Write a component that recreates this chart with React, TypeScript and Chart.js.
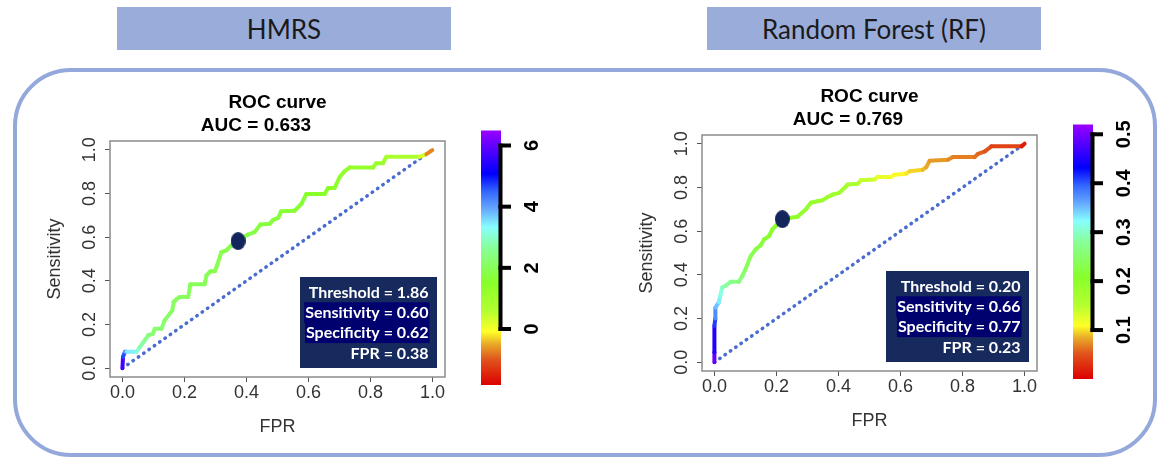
import React, { useEffect, useRef } from 'react';
import { Chart, registerables } from 'chart.js';

Chart.register(...registerables);

const axisTicks = [0, 0.2, 0.4, 0.6, 0.8, 1.0];

// ---- HMRS panel data ----
const hmrsFpr = [0, 0.002, 0.008, 0.015, 0.045, 0.056, 0.072, 0.083, 0.099, 0.104, 0.126, 0.136, 0.153, 0.161, 0.165, 0.176, 0.185, 0.212, 0.219, 0.265, 0.271, 0.284, 0.298, 0.305, 0.319, 0.335, 0.351, 0.373, 0.391, 0.405, 0.426, 0.445, 0.475, 0.486, 0.502, 0.512, 0.555, 0.577, 0.593, 0.652, 0.663, 0.684, 0.7, 0.716, 0.733, 0.808, 0.818, 0.84, 0.851, 0.958, 0.98, 0.999];
const hmrsTpr = [0, 0.052, 0.075, 0.075, 0.075, 0.097, 0.128, 0.151, 0.158, 0.181, 0.181, 0.219, 0.25, 0.265, 0.303, 0.318, 0.326, 0.326, 0.384, 0.384, 0.425, 0.444, 0.444, 0.47, 0.531, 0.539, 0.562, 0.582, 0.6, 0.612, 0.623, 0.658, 0.661, 0.679, 0.688, 0.718, 0.721, 0.752, 0.798, 0.798, 0.825, 0.825, 0.874, 0.901, 0.919, 0.919, 0.938, 0.938, 0.968, 0.968, 0.98, 0.998];
const hmrsThreshold = [6.4, 5.0, 4.3, 3.7, 3.2, 2.9, 2.6, 2.4, 2.3, 2.25, 2.2, 2.18, 2.15, 2.12, 2.1, 2.08, 2.05, 2.02, 2.0, 1.98, 1.96, 1.94, 1.92, 1.91, 1.9, 1.89, 1.87, 1.86, 1.84, 1.82, 1.8, 1.77, 1.74, 1.71, 1.68, 1.65, 1.6, 1.56, 1.52, 1.47, 1.43, 1.38, 1.34, 1.3, 1.25, 1.18, 1.12, 1.05, 0.98, 0.5, 0.1, -1.5];
const hmrsCutoff = [0.373, 0.582];
const hmrsInfo = ['Threshold = 1.86', 'Sensitivity = 0.60', 'Specificity = 0.62', 'FPR = 0.38'];
const hmrsColorRange = [-1.83, 6.49];
const hmrsColorTicks = [0, 2, 4, 6];

// ---- Random Forest panel data ----
const rfFpr = [0, 0, 0, 0.003, 0.003, 0.014, 0.019, 0.025, 0.036, 0.052, 0.079, 0.09, 0.1, 0.117, 0.133, 0.149, 0.16, 0.176, 0.187, 0.197, 0.214, 0.246, 0.268, 0.294, 0.311, 0.332, 0.348, 0.365, 0.381, 0.402, 0.419, 0.429, 0.462, 0.472, 0.516, 0.526, 0.57, 0.58, 0.618, 0.629, 0.672, 0.683, 0.694, 0.753, 0.769, 0.839, 0.85, 0.872, 0.893, 0.99, 1.0];
const rfTpr = [0, 0.046, 0.167, 0.2, 0.25, 0.274, 0.304, 0.342, 0.35, 0.368, 0.368, 0.395, 0.425, 0.486, 0.517, 0.535, 0.562, 0.577, 0.608, 0.623, 0.653, 0.661, 0.666, 0.699, 0.73, 0.737, 0.741, 0.756, 0.767, 0.775, 0.797, 0.813, 0.817, 0.833, 0.836, 0.848, 0.848, 0.858, 0.863, 0.874, 0.881, 0.893, 0.922, 0.927, 0.939, 0.939, 0.954, 0.965, 0.988, 0.988, 1.0];
const rfThreshold = [0.51, 0.47, 0.43, 0.39, 0.36, 0.34, 0.32, 0.3, 0.285, 0.275, 0.265, 0.255, 0.245, 0.235, 0.228, 0.222, 0.217, 0.212, 0.208, 0.204, 0.2, 0.198, 0.196, 0.194, 0.191, 0.188, 0.185, 0.182, 0.179, 0.176, 0.173, 0.17, 0.16, 0.15, 0.133, 0.126, 0.116, 0.11, 0.104, 0.1, 0.092, 0.086, 0.08, 0.075, 0.07, 0.066, 0.06, 0.055, 0.048, 0.035, 0.0];
const rfCutoff = [0.219, 0.655];
const rfInfo = ['Threshold = 0.20', 'Sensitivity = 0.66', 'Specificity = 0.77', 'FPR = 0.23'];
const rfColorRange = [0, 0.52];
const rfColorTicks = [0.1, 0.2, 0.3, 0.4, 0.5];

// colour palette (bottom -> top of colour bar)
const paletteStops: [number, string][] = [
  [0, '#dd0000'], [0.1, '#e0541c'], [0.16, '#e8a828'], [0.21, '#ffff26'], [0.29, '#b4ff30'],
  [0.4, '#88ff2a'], [0.54, '#88ff99'], [0.62, '#88ffff'], [0.69, '#66aaff'], [0.76, '#3366ff'],
  [0.83, '#0000ff'], [1, '#9900ff'],
];

function hexRgb(h: string) {
  return [parseInt(h.slice(1, 3), 16), parseInt(h.slice(3, 5), 16), parseInt(h.slice(5, 7), 16)];
}

function rainbow(t: number) {
  const tt = Math.max(0, Math.min(1, t));
  for (let i = 1; i < paletteStops.length; i++) {
    const [t1, c1] = paletteStops[i];
    const [t0, c0] = paletteStops[i - 1];
    if (tt <= t1) {
      const f = (tt - t0) / (t1 - t0);
      const a = hexRgb(c0), b = hexRgb(c1);
      const r = a.map((v, k) => Math.round(v + (b[k] - v) * f));
      return `rgb(${r[0]},${r[1]},${r[2]})`;
    }
  }
  return paletteStops[paletteStops.length - 1][1];
}

const FONT = "'Liberation Sans', Arial, sans-serif";

type PanelProps = {
  left: number; top: number;
  fpr: number[]; tpr: number[]; thr: number[]; cut: number[];
  auc: string; info: string[]; infoWidth: number;
  range: number[]; cbTicks: number[]; cbDigits: number;
};

function RocPanel(props: PanelProps) {
  const ref = useRef<HTMLCanvasElement>(null);
  useEffect(() => {
    const canvas = ref.current as HTMLCanvasElement;
    const dot = document.createElement('canvas');
    dot.width = 15; dot.height = 18;
    const dctx = dot.getContext('2d') as CanvasRenderingContext2D;
    dctx.fillStyle = '#13255c';
    dctx.beginPath();
    dctx.ellipse(7.5, 9, 7.5, 9, 0, 0, Math.PI * 2);
    dctx.fill();

    const r0 = props.range[0];
    const span = props.range[1] - props.range[0];
    const colorOf = (v: number) => rainbow((v - r0) / span);

    const decor = {
      id: 'decor',
      beforeDatasetsDraw(chart: any) {
        const { ctx, chartArea: a } = chart;
        ctx.save();
        ctx.strokeStyle = '#8c8c8c';
        ctx.lineWidth = 1.5;
        ctx.strokeRect(a.left, a.top, a.right - a.left, a.bottom - a.top);
        ctx.restore();
      },
      afterDatasetsDraw(chart: any) {
        const { ctx, chartArea: a } = chart;
        ctx.save();
        const bh = 91;
        const bx = a.right - 8 - props.infoWidth;
        const by = a.bottom - 9 - bh;
        ctx.fillStyle = '#172a5e';
        ctx.fillRect(bx, by, props.infoWidth, bh);
        ctx.font = "bold 16px Lato, 'Open Sans', sans-serif";
        ctx.textAlign = 'right';
        ctx.textBaseline = 'alphabetic';
        const tx = a.right - 8 - 8.5;
        const baselines = [20.5, 40.8, 61, 81.5];
        props.info.forEach((line, i) => {
          if (i === 1 || i === 2) {
            const w = ctx.measureText(line).width;
            ctx.fillStyle = '#00006e';
            ctx.fillRect(tx - w - 1, by + baselines[i] - 15.5, w + 2, 20.6);
          }
        });
        ctx.fillStyle = '#ffffff';
        props.info.forEach((line, i) => ctx.fillText(line, tx, by + baselines[i]));
        ctx.restore();
      },
      afterDraw(chart: any) {
        const { ctx, chartArea: a } = chart;
        const ys = chart.scales.y;
        ctx.save();
        // rotated y tick labels
        ctx.font = `18px ${FONT}`;
        ctx.fillStyle = '#333333';
        ctx.textAlign = 'center';
        ctx.textBaseline = 'middle';
        ys.ticks.forEach((t: any) => {
          const py = ys.getPixelForValue(t.value);
          ctx.save();
          ctx.translate(a.left - 20, py);
          ctx.rotate(-Math.PI / 2);
          ctx.fillText(Number(t.value).toFixed(1), 0, 0);
          ctx.restore();
        });
        // titles
        const cx = (a.left + a.right) / 2;
        ctx.fillStyle = '#000000';
        ctx.textBaseline = 'alphabetic';
        ctx.font = `bold 19px ${FONT}`;
        ctx.fillText('ROC curve', cx, a.top - 33);
        ctx.fillText(props.auc, cx - 21.5, a.top - 10);
        // colour bar
        const bl = a.right + 36, bw = 20, bt = a.top - 10.5, bb = a.bottom + 8;
        const g = ctx.createLinearGradient(0, bb, 0, bt);
        paletteStops.forEach(([t, c]) => g.addColorStop(t, c));
        ctx.fillStyle = g;
        ctx.fillRect(bl, bt, bw, bb - bt);
        const vy = (v: number) => bb - ((v - r0) / span) * (bb - bt);
        const tks = props.cbTicks;
        const yTop = vy(tks[tks.length - 1]);
        const yBot = vy(tks[0]);
        ctx.strokeStyle = '#000000';
        ctx.lineWidth = 4;
        ctx.lineCap = 'butt';
        const lx = bl + bw - 0.5;
        ctx.beginPath();
        ctx.moveTo(lx, yTop - 2);
        ctx.lineTo(lx, yBot + 2);
        ctx.stroke();
        tks.forEach((v) => {
          const y = vy(v);
          ctx.beginPath();
          ctx.moveTo(lx - 2, y);
          ctx.lineTo(bl + bw + 10, y);
          ctx.stroke();
        });
        ctx.font = `bold 20px ${FONT}`;
        ctx.fillStyle = '#000000';
        ctx.textAlign = 'center';
        ctx.textBaseline = 'middle';
        tks.forEach((v) => {
          ctx.save();
          ctx.translate(bl + bw + 31, vy(v));
          ctx.rotate(-Math.PI / 2);
          ctx.fillText(v.toFixed(props.cbDigits), 0, 0);
          ctx.restore();
        });
        ctx.restore();
      },
    };

    const gridOpts = { display: true, drawOnChartArea: false, drawTicks: true, tickLength: 5, color: '#555555', lineWidth: 1 };

    const chart = new Chart(canvas, {
      type: 'line',
      data: {
        datasets: [
          {
            label: 'cutoff',
            data: [{ x: props.cut[0], y: props.cut[1] }],
            pointStyle: dot as any,
            pointRadius: 9,
            showLine: false,
            order: 0,
          } as any,
          {
            label: 'ROC',
            data: props.fpr.map((x, i) => ({ x, y: props.tpr[i] })),
            borderWidth: 4,
            borderColor: '#88ff2a',
            pointRadius: 0,
            tension: 0,
            borderCapStyle: 'round',
            borderJoinStyle: 'round',
            segment: {
              borderColor: (c: any) => colorOf((props.thr[c.p0DataIndex] + props.thr[c.p1DataIndex]) / 2),
            },
            order: 1,
          } as any,
          {
            label: 'chance',
            data: [{ x: 0, y: 0 }, { x: 1, y: 1 }],
            borderColor: '#4a6bd0',
            borderWidth: 3.5,
            borderDash: [0.5, 6],
            borderCapStyle: 'round',
            pointRadius: 0,
            order: 2,
          } as any,
        ],
      },
      options: {
        responsive: false,
        animation: false,
        layout: { padding: { left: 0, top: 60, right: 115, bottom: 0 } },
        plugins: { legend: { display: false }, tooltip: { enabled: false }, title: { display: false } },
        scales: {
          x: {
            type: 'linear', min: -0.04, max: 1.04,
            afterBuildTicks: (s: any) => { s.ticks = axisTicks.map((v) => ({ value: v })); },
            afterFit: (s: any) => { s.height = 74; },
            ticks: {
              callback: (v: any) => Number(v).toFixed(1),
              font: { family: FONT, size: 18 }, color: '#333333', padding: 0,
              maxRotation: 0, minRotation: 0, autoSkip: false,
            },
            grid: gridOpts,
            border: { display: false },
            title: { display: true, text: 'FPR', font: { family: FONT, size: 18 }, color: '#333333', padding: { top: 0, bottom: 13.5 } },
          },
          y: {
            type: 'linear', min: -0.04, max: 1.04,
            afterBuildTicks: (s: any) => { s.ticks = axisTicks.map((v) => ({ value: v })); },
            afterFit: (s: any) => { s.width = 90; },
            ticks: { display: false },
            grid: gridOpts,
            border: { display: false },
            title: { display: true, text: 'Sensitivity', font: { family: FONT, size: 18 }, color: '#333333', padding: { top: 24, bottom: 0 } },
          },
        },
      } as any,
      plugins: [decor as any],
    });
    return () => chart.destroy();
  }, []);
  return (
    <canvas
      ref={ref}
      width={540}
      height={370}
      style={{ position: 'absolute', left: props.left, top: props.top, width: 540, height: 370 }}
    />
  );
}

const headerStyle = (left: number): React.CSSProperties => ({
  position: 'absolute', left, top: 7, width: 334, height: 43, background: '#9aadda',
  display: 'flex', alignItems: 'center', justifyContent: 'center',
  fontFamily: "Lato, 'Open Sans', sans-serif", fontSize: 26, color: '#1a1a1a',
});

export default function App() {
  return (
    <div style={{ position: 'absolute', left: 0, top: 0, width: 1158, height: 462, background: '#ffffff', overflow: 'hidden' }}>
      <div style={headerStyle(117)}>HMRS</div>
      <div style={headerStyle(707)}>Random Forest (RF)</div>
      <div
        style={{
          position: 'absolute', left: 13, top: 68, width: 1144, height: 389, boxSizing: 'border-box',
          border: '4.5px solid #95a8dc', borderRadius: 58,
        }}
      />
      <RocPanel
        left={20} top={81}
        fpr={hmrsFpr} tpr={hmrsTpr} thr={hmrsThreshold} cut={hmrsCutoff}
        auc="AUC = 0.633" info={hmrsInfo} infoWidth={137}
        range={hmrsColorRange} cbTicks={hmrsColorTicks} cbDigits={0}
      />
      <RocPanel
        left={612} top={75}
        fpr={rfFpr} tpr={rfTpr} thr={rfThreshold} cut={rfCutoff}
        auc="AUC = 0.769" info={rfInfo} infoWidth={143}
        range={rfColorRange} cbTicks={rfColorTicks} cbDigits={1}
      />
    </div>
  );
}
